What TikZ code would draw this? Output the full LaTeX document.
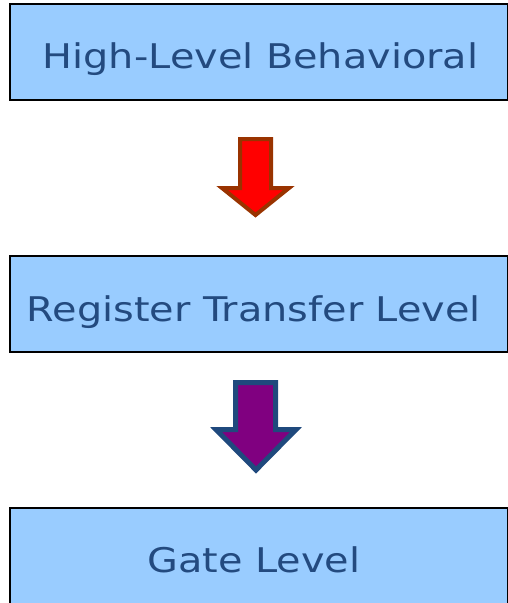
\documentclass[tikz,border=0pt]{standalone}
\usepackage{fontspec}
\setmainfont{DejaVu Sans}
\newfontfamily\widefont[FakeStretch=1.17]{DejaVu Sans}
\definecolor{boxfill}{HTML}{99CCFF}
\definecolor{txt}{HTML}{234A7F}
\definecolor{redline}{HTML}{993300}
\definecolor{purpfill}{HTML}{800080}
\definecolor{purpline}{HTML}{1F497D}
\begin{document}
\begin{tikzpicture}[x=1pt,y=-1pt,
  box/.style={draw=black,line width=1.8pt,fill=boxfill},
  lbl/.style={text=txt,font=\widefont\fontsize{34}{40}\selectfont,anchor=base,inner sep=0pt}]
\useasboundingbox (0,0) rectangle (508,603);
\draw[box] (10,4) rectangle (508,100);
\draw[box] (10,256) rectangle (508,352);
\draw[box] (10,508) rectangle (508,606);
\node[lbl] (t1) at (260.5,68) {High-Level Behavioral};
\node[lbl] (t2) at (254,321) {Register Transfer Level};
\node[lbl] (t3) at (254,572) {Gate Level};
\draw[draw=redline,fill=red,line width=4pt,line join=miter]
  (240,139) -- (271,139) -- (271,188) -- (289,188) -- (255.5,215)
  -- (222,188) -- (240,188) -- cycle;
\draw[draw=purpline,fill=purpfill,line width=5pt,line join=miter]
  (235.5,382.5) -- (275.5,382.5) -- (275.5,429.5) -- (296,429.5) -- (256,470)
  -- (216,429.5) -- (235.5,429.5) -- cycle;
\end{tikzpicture}
\end{document}
